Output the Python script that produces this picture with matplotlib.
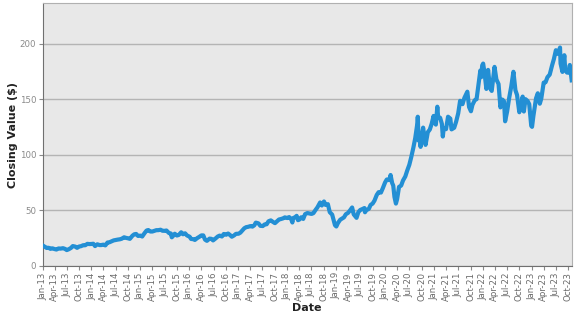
import matplotlib
matplotlib.use("Agg")
from matplotlib import pyplot as plt
import matplotlib.dates as mdates
import pandas as pd

# closing values, roughly twice a month (split adjusted)
dates_2013 = ["2013-01-02", "2013-01-15", "2013-02-01", "2013-02-15", "2013-03-01", "2013-03-15",
              "2013-04-01", "2013-04-15", "2013-05-01", "2013-05-15", "2013-06-03", "2013-06-17",
              "2013-07-01", "2013-07-15", "2013-08-01", "2013-08-15", "2013-09-03", "2013-09-16",
              "2013-10-01", "2013-10-15", "2013-11-01", "2013-11-15", "2013-12-02", "2013-12-16"]
close_2013 = [18.5, 17.5, 16.2, 16.4, 15.4, 15.9, 15.2, 14.8, 15.8, 15.6, 16.0, 15.4,
              14.3, 15.0, 16.2, 17.9, 17.4, 16.3, 17.5, 17.8, 18.7, 18.6, 19.9, 19.7]

dates_2014 = ["2014-01-02", "2014-01-15", "2014-01-28", "2014-02-14", "2014-03-03", "2014-03-14",
              "2014-04-01", "2014-04-15", "2014-05-01", "2014-05-15", "2014-06-02", "2014-06-16",
              "2014-07-01", "2014-07-15", "2014-08-01", "2014-08-15", "2014-09-02", "2014-09-15",
              "2014-10-01", "2014-10-15", "2014-11-03", "2014-11-17", "2014-12-01", "2014-12-15"]
close_2014 = [19.8, 20.0, 17.9, 19.5, 18.8, 18.8, 19.2, 18.5, 21.1, 21.3, 22.2, 23.0,
              23.4, 23.7, 24.0, 24.5, 25.8, 25.3, 24.9, 24.4, 27.2, 28.5, 28.8, 27.0]

dates_2015 = ["2015-01-02", "2015-01-15", "2015-02-02", "2015-02-17", "2015-03-02", "2015-03-16",
              "2015-04-01", "2015-04-15", "2015-05-01", "2015-05-15", "2015-06-01", "2015-06-15",
              "2015-07-01", "2015-07-15", "2015-08-03", "2015-08-17", "2015-08-24", "2015-09-01",
              "2015-09-15", "2015-10-01", "2015-10-15", "2015-11-02", "2015-11-16", "2015-12-01",
              "2015-12-15"]
close_2015 = [27.3, 26.5, 29.6, 31.9, 32.3, 31.0, 31.0, 31.6, 32.2, 32.2, 32.6, 31.7,
              31.6, 31.9, 29.6, 29.2, 25.8, 26.8, 29.0, 27.4, 27.9, 30.3, 28.5, 29.4, 27.5]

dates_2016 = ["2016-01-04", "2016-01-15", "2016-02-01", "2016-02-12", "2016-03-01", "2016-03-15",
              "2016-04-01", "2016-04-15", "2016-04-28", "2016-05-12", "2016-06-01", "2016-06-15",
              "2016-06-27", "2016-07-15", "2016-08-01", "2016-08-15", "2016-09-01", "2016-09-15",
              "2016-10-03", "2016-10-17", "2016-11-01", "2016-11-14", "2016-12-01", "2016-12-15"]
close_2016 = [26.3, 24.3, 24.1, 23.4, 25.1, 26.1, 27.5, 27.5, 23.7, 22.6, 24.6, 24.4,
              23.0, 24.7, 26.5, 27.3, 26.5, 28.8, 28.1, 29.2, 27.8, 26.3, 27.5, 28.9]

dates_2017 = ["2017-01-03", "2017-01-17", "2017-02-01", "2017-02-15", "2017-03-01", "2017-03-15",
              "2017-04-03", "2017-04-17", "2017-05-01", "2017-05-12", "2017-06-01", "2017-06-15",
              "2017-07-03", "2017-07-17", "2017-08-01", "2017-08-15", "2017-09-01", "2017-09-15",
              "2017-10-02", "2017-10-16", "2017-11-01", "2017-11-15", "2017-12-01", "2017-12-15"]
close_2017 = [29.0, 30.0, 32.0, 33.9, 34.9, 35.2, 35.9, 35.4, 36.6, 39.0, 38.3, 36.1,
              35.9, 37.4, 37.5, 40.2, 41.0, 39.8, 38.5, 40.0, 41.8, 42.2, 42.8, 43.7]

dates_2018 = ["2018-01-02", "2018-01-16", "2018-02-01", "2018-02-09", "2018-02-15", "2018-03-01",
              "2018-03-13", "2018-03-23", "2018-04-02", "2018-04-16", "2018-05-01", "2018-05-15",
              "2018-06-01", "2018-06-15", "2018-07-02", "2018-07-16", "2018-08-01", "2018-08-15",
              "2018-09-04", "2018-09-17", "2018-10-03", "2018-10-15", "2018-11-01", "2018-11-15",
              "2018-12-03", "2018-12-14", "2018-12-24"]
close_2018 = [43.1, 44.0, 41.9, 39.1, 43.1, 43.8, 45.1, 41.2, 41.7, 43.8, 42.3, 46.6,
              47.6, 47.2, 46.8, 47.5, 50.4, 52.7, 57.1, 54.4, 58.0, 54.9, 55.6, 48.4,
              46.2, 41.4, 36.7]

dates_2019 = ["2019-01-03", "2019-01-15", "2019-02-01", "2019-02-15", "2019-03-01", "2019-03-15",
              "2019-04-01", "2019-04-15", "2019-05-01", "2019-05-13", "2019-06-03", "2019-06-17",
              "2019-07-01", "2019-07-15", "2019-08-01", "2019-08-05", "2019-08-15", "2019-09-03",
              "2019-09-16", "2019-10-01", "2019-10-15", "2019-11-01", "2019-11-15", "2019-12-02",
              "2019-12-16"]
close_2019 = [35.5, 38.6, 41.6, 42.6, 43.7, 46.5, 47.8, 49.9, 52.6, 46.4, 43.3, 48.5,
              50.4, 51.1, 52.1, 48.3, 50.2, 51.4, 54.9, 56.1, 58.8, 63.9, 66.4, 66.0, 69.9]

dates_2020 = ["2020-01-02", "2020-01-15", "2020-02-03", "2020-02-12", "2020-02-24", "2020-03-03",
              "2020-03-12", "2020-03-23", "2020-04-01", "2020-04-15", "2020-05-01", "2020-05-15",
              "2020-06-01", "2020-06-15", "2020-07-01", "2020-07-15", "2020-07-31", "2020-08-14",
              "2020-08-31", "2020-09-02", "2020-09-08", "2020-09-15", "2020-09-23", "2020-10-01",
              "2020-10-12", "2020-10-30", "2020-11-16", "2020-12-01", "2020-12-15", "2020-12-29"]
close_2020 = [75.1, 77.8, 77.2, 81.8, 74.5, 72.3, 62.1, 56.1, 60.2, 71.1, 72.3, 76.9,
              80.5, 85.7, 91.0, 97.7, 106.3, 114.9, 129.0, 134.2, 112.8, 115.5, 107.1, 116.8,
              124.4, 108.9, 120.3, 122.7, 127.9, 134.9]

dates_2021 = ["2021-01-04", "2021-01-15", "2021-01-26", "2021-02-01", "2021-02-16", "2021-03-01",
              "2021-03-08", "2021-03-15", "2021-04-01", "2021-04-16", "2021-05-03", "2021-05-12",
              "2021-06-01", "2021-06-15", "2021-07-01", "2021-07-15", "2021-08-02", "2021-08-16",
              "2021-09-07", "2021-09-20", "2021-10-04", "2021-10-15", "2021-11-01", "2021-11-15",
              "2021-12-01", "2021-12-13", "2021-12-20", "2021-12-27"]
close_2021 = [129.4, 127.1, 143.2, 134.1, 133.2, 127.8, 116.4, 124.0, 123.0, 134.2, 132.5, 122.8,
              124.3, 129.6, 137.3, 148.5, 145.5, 151.1, 156.7, 142.9, 139.1, 144.8, 149.0, 150.0,
              164.8, 175.7, 169.8, 180.3]

dates_2022 = ["2022-01-03", "2022-01-14", "2022-01-27", "2022-02-09", "2022-02-23", "2022-03-08",
              "2022-03-29", "2022-04-12", "2022-04-28", "2022-05-12", "2022-05-27", "2022-06-08",
              "2022-06-16", "2022-07-01", "2022-07-15", "2022-08-01", "2022-08-17", "2022-09-01",
              "2022-09-13", "2022-09-30", "2022-10-13", "2022-10-25", "2022-11-03", "2022-11-15",
              "2022-12-01", "2022-12-13", "2022-12-28"]
close_2022 = [182.0, 173.1, 159.2, 176.3, 160.1, 157.4, 179.0, 167.7, 163.6, 142.6, 149.6, 148.0,
              130.1, 138.9, 150.2, 161.5, 174.6, 158.0, 153.8, 138.2, 143.0, 152.3, 138.9, 150.0,
              148.3, 145.5, 126.0]

dates_2023 = ["2023-01-03", "2023-01-13", "2023-02-02", "2023-02-15", "2023-03-02", "2023-03-13",
              "2023-03-31", "2023-04-14", "2023-04-28", "2023-05-15", "2023-06-01", "2023-06-15",
              "2023-06-30", "2023-07-14", "2023-07-31", "2023-08-04", "2023-08-18", "2023-09-01",
              "2023-09-07", "2023-09-15", "2023-09-21", "2023-10-02", "2023-10-12", "2023-10-20",
              "2023-10-26"]
close_2023 = [125.1, 134.8, 150.8, 155.3, 145.9, 150.5, 164.9, 165.2, 169.7, 172.1, 180.1, 186.0,
              194.0, 190.7, 196.4, 182.0, 174.5, 189.5, 177.6, 175.0, 173.9, 173.8, 180.7, 172.9,
              166.9]

dates = pd.to_datetime(dates_2013 + dates_2014 + dates_2015 + dates_2016 + dates_2017 + dates_2018
                       + dates_2019 + dates_2020 + dates_2021 + dates_2022 + dates_2023)
close = (close_2013 + close_2014 + close_2015 + close_2016 + close_2017 + close_2018
         + close_2019 + close_2020 + close_2021 + close_2022 + close_2023)

y_ticks = [0, 50, 100, 150, 200]
x_start = pd.Timestamp("2013-01-01")

fig = plt.figure(figsize=(5.77, 3.15), dpi=100)
ax = fig.add_axes([0.0737, 0.1556, 0.9171, 0.8333])
ax.set_facecolor('#e8e8e8')

ax.plot(dates, close, color='#238fd4', linewidth=3, solid_joinstyle='round', zorder=3)

ax.set_xlim(x_start, dates[-1])
ax.set_ylim(0, 236)
ax.set_yticks(y_ticks)
ax.yaxis.grid(True, color='#b4b4b4', linewidth=1)
ax.set_axisbelow(True)

# quarterly date ticks
ax.xaxis.set_major_locator(mdates.MonthLocator(bymonth=[1, 4, 7, 10]))
ax.xaxis.set_major_formatter(mdates.DateFormatter('%b-%y'))
plt.setp(ax.get_xticklabels(), rotation=90, ha='center', va='top')

ax.tick_params(axis='both', colors='#8a8a8a', labelsize=6.2, length=3, width=0.8, pad=1.5)
ax.tick_params(axis='x', labelcolor='#6a6a6a')
ax.tick_params(axis='y', labelcolor='#8a8a8a')
for side in ['top', 'right']:
    ax.spines[side].set_color('#b0b0b0')
for side in ['left', 'bottom']:
    ax.spines[side].set_color('#707070')

ax.set_xlabel("Date", fontsize=8, fontweight='bold', color='#222222', labelpad=1)
ax.set_ylabel("Closing Value ($)", fontsize=8, fontweight='bold', color='#222222', labelpad=1)

plt.savefig("out.png", dpi=100)
